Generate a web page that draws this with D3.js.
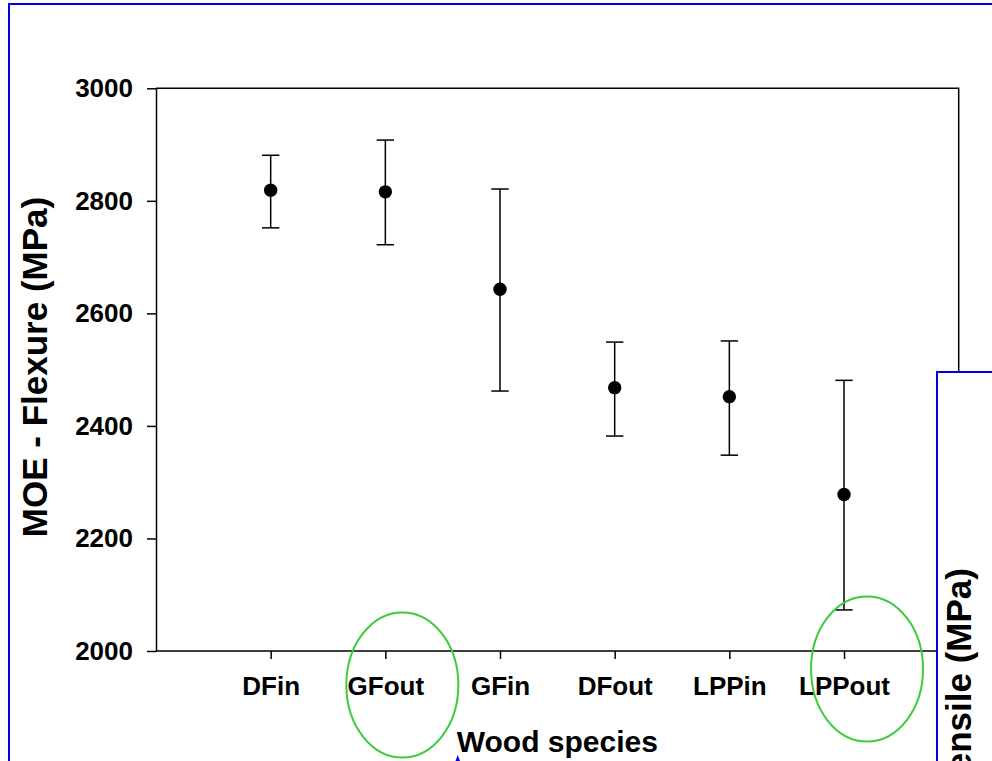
<!DOCTYPE html>
<html>
<head>
<meta charset="utf-8">
<script src="https://cdn.jsdelivr.net/npm/d3@7"></script>
<style>
  html, body { margin: 0; padding: 0; background: #fff; overflow: hidden; }
  svg { display: block; }
  text { font-family: "Liberation Sans", Arial, sans-serif; font-weight: bold; fill: #000; }
</style>
</head>
<body>
<script>
// ---- data ----
const categories = ["DFin", "GFout", "GFin", "DFout", "LPPin", "LPPout"];
const means      = [2819, 2816, 2643, 2468, 2452, 2278];
const upperVals  = [2881, 2908, 2821, 2549, 2551, 2481];
const lowerVals  = [2752, 2722, 2462, 2382, 2348, 2073];
const yTicks     = [2000, 2200, 2400, 2600, 2800, 3000];
const circled    = ["GFout", "LPPout"];
const yTitle = "MOE - Flexure (MPa)";
const xTitle = "Wood species";
const otherTitle = "MOE - Tensile (MPa)";

const W = 992, H = 761;
const plot = { left: 156, right: 958.7, top: 88.3, bottom: 651 };

const svg = d3.select("body").append("svg").attr("width", W).attr("height", H);

// outer blue frame
svg.append("rect").attr("x", 9).attr("y", 4).attr("width", 1200).attr("height", 1000)
  .attr("fill", "none").attr("stroke", "#0000e0").attr("stroke-width", 2);

const x = d3.scalePoint().domain(categories).range([plot.left, plot.right]).padding(1);
const y = d3.scaleLinear().domain([2000, 3000]).range([plot.bottom, plot.top]);

// frame top/right
svg.append("path")
  .attr("d", `M${plot.left},${plot.top}H${plot.right}V${plot.bottom}`)
  .attr("fill", "none").attr("stroke", "#000").attr("stroke-width", 1.5);

// y axis
const gy = svg.append("g").attr("transform", `translate(${plot.left},0)`)
  .call(d3.axisLeft(y).tickValues(yTicks).tickFormat(d3.format("d")).tickSize(9).tickSizeOuter(0).tickPadding(14));
gy.selectAll("path,line").attr("stroke", "#000").attr("stroke-width", 1.5);
gy.selectAll("text").style("font-size", "26px").attr("fill", "#000");

// x axis
const gx = svg.append("g").attr("transform", `translate(0,${plot.bottom})`)
  .call(d3.axisBottom(x).tickSize(8).tickSizeOuter(0).tickPadding(18));
gx.select("path.domain").attr("d", `M${plot.left},0H${plot.right}`);
gx.selectAll("path,line").attr("stroke", "#000").attr("stroke-width", 1.5);
gx.selectAll("text").style("font-size", "26px").attr("fill", "#000");

// error bars
const capW = 8.7;
const eb = svg.append("g").attr("stroke", "#000").attr("stroke-width", 1.5);
categories.forEach((c, i) => {
  const cx = x(c);
  eb.append("line").attr("x1", cx).attr("x2", cx).attr("y1", y(upperVals[i])).attr("y2", y(lowerVals[i]));
  eb.append("line").attr("x1", cx - capW).attr("x2", cx + capW).attr("y1", y(upperVals[i])).attr("y2", y(upperVals[i]));
  eb.append("line").attr("x1", cx - capW).attr("x2", cx + capW).attr("y1", y(lowerVals[i])).attr("y2", y(lowerVals[i]));
});
svg.append("g").selectAll("circle").data(categories).join("circle")
  .attr("cx", d => x(d)).attr("cy", (d, i) => y(means[i])).attr("r", 6.7).attr("fill", "#000");

// axis titles
svg.append("text").attr("transform", "translate(47,367) rotate(-90)")
  .attr("text-anchor", "middle").style("font-size", "35px").text(yTitle);
svg.append("text").attr("x", (plot.left + plot.right) / 2).attr("y", 752)
  .attr("text-anchor", "middle").style("font-size", "30px").text(xTitle);

// green ellipses
const ellOffsets = [17, 23], ellCy = [685, 669];
circled.forEach((c, k) => {
  svg.append("ellipse").attr("cx", x(c) + ellOffsets[k]).attr("cy", ellCy[k])
    .attr("rx", 56).attr("ry", 72.5)
    .attr("fill", "none").attr("stroke", "#3ccc3c").attr("stroke-width", 2);
});

// small blue arrow tip
svg.append("path").attr("d", "M457.7,755 L455.5,761 L460,761 Z").attr("fill", "#0000e0");

// overlapping second frame
svg.append("rect").attr("x", 937).attr("y", 372).attr("width", 300).attr("height", 600)
  .attr("fill", "#fff").attr("stroke", "#0000e0").attr("stroke-width", 2);
svg.append("text").attr("transform", "translate(971,568) rotate(-90)")
  .attr("text-anchor", "end").style("font-size", "35px").text(otherTitle);
</script>
</body>
</html>
